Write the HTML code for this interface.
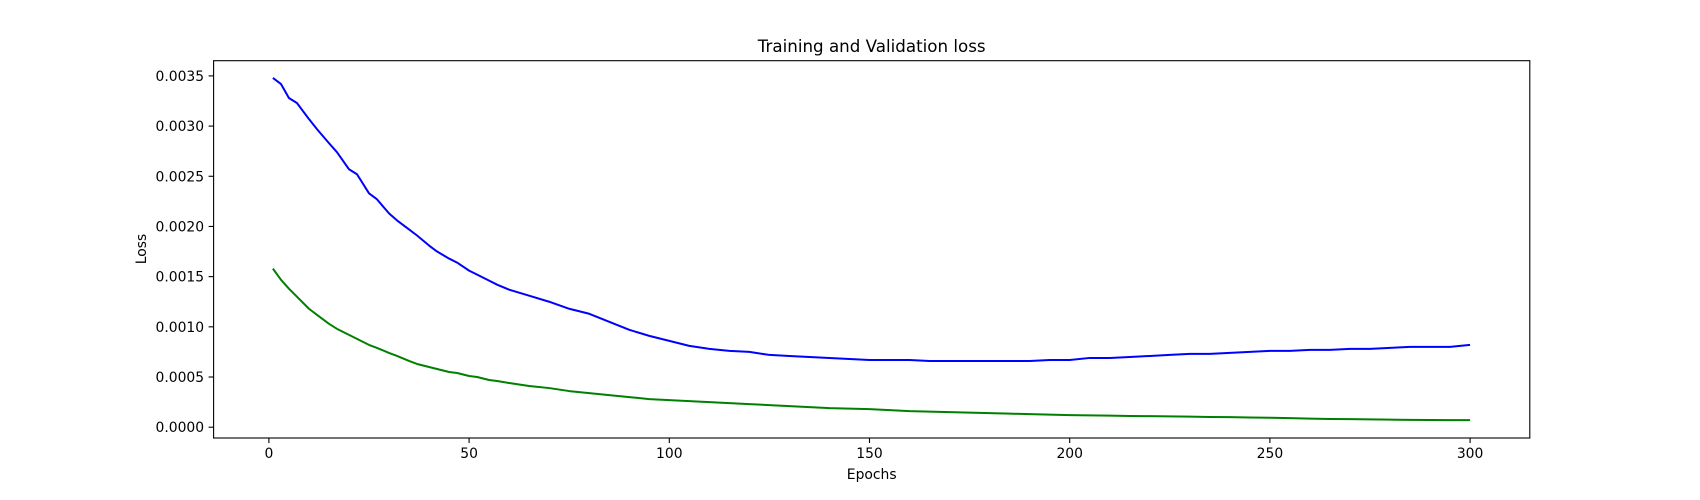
<!DOCTYPE html>
<html><head><meta charset="utf-8"><style>
body{margin:0;background:#fff;}
svg{display:block;font-family:"DejaVu Sans","Liberation Sans",sans-serif;}
</style></head><body>
<svg id="c" width="1700" height="500"></svg>
<script>
const epochs=[1,3,5,7,10,12,15,17,20,22,25,27,30,32,35,37,40,42,45,47,50,52,55,57,60,65,70,75,80,85,90,95,100,105,110,115,120,125,130,135,140,145,150,155,160,165,170,175,180,185,190,195,200,205,210,215,220,225,230,235,240,245,250,255,260,265,270,275,280,285,290,295,300];
const trainLoss=[0.00158,0.00147,0.00138,0.00130,0.00118,0.00112,0.00103,0.00098,0.00092,0.00088,0.00082,0.00079,0.00074,0.00071,0.00066,0.00063,0.00060,0.00058,0.00055,0.00054,0.00051,0.00050,0.00047,0.00046,0.00044,0.00041,0.00039,0.00036,0.00034,0.00032,0.00030,0.00028,0.00027,0.00026,0.00025,0.00024,0.00023,0.00022,0.00021,0.00020,0.00019,0.000185,0.00018,0.00017,0.00016,0.000155,0.00015,0.000145,0.00014,0.000135,0.00013,0.000125,0.00012,0.000118,0.000115,0.000112,0.00011,0.000108,0.000105,0.000102,0.0001,0.000097,0.000094,0.00009,0.000085,0.000082,0.00008,0.000078,0.000075,0.000073,0.000072,0.00007,0.00007];
const valLoss=[0.00348,0.00342,0.00328,0.00323,0.00307,0.00297,0.00283,0.00274,0.00257,0.00252,0.00233,0.00227,0.00213,0.00206,0.00197,0.00191,0.00181,0.00175,0.00168,0.00164,0.00156,0.00152,0.00146,0.00142,0.00137,0.00131,0.00125,0.00118,0.00113,0.00105,0.00097,0.00091,0.00086,0.00081,0.00078,0.00076,0.00075,0.00072,0.00071,0.00070,0.00069,0.00068,0.00067,0.00067,0.00067,0.00066,0.00066,0.00066,0.00066,0.00066,0.00066,0.00067,0.00067,0.00069,0.00069,0.00070,0.00071,0.00072,0.00073,0.00073,0.00074,0.00075,0.00076,0.00076,0.00077,0.00077,0.00078,0.00078,0.00079,0.00080,0.00080,0.00080,0.00082];
const xTicks=[0,50,100,150,200,250,300];
const yTicks=[0,0.0005,0.001,0.0015,0.002,0.0025,0.003,0.0035];
const yTickLabels=["0.0000","0.0005","0.0010","0.0015","0.0020","0.0025","0.0030","0.0035"];
const NS="http://www.w3.org/2000/svg";
const svg=document.getElementById('c');
const L=213.6,R=1529.8,T=60.7,B=438;
const xs=v=>268.9+v*(1470.1-268.9)/300;
const ys=v=>427.2-v*((427.2-75.9)/0.0035);
function el(t,a,p){const e=document.createElementNS(NS,t);for(const k in a)e.setAttribute(k,a[k]);(p||svg).appendChild(e);return e;}
function line(data,color,name){
  const d=epochs.map((e,i)=>(i?'L':'M')+xs(e).toFixed(2)+','+ys(data[i]).toFixed(2)).join('');
  const p=el('path',{d:d,fill:'none',stroke:color,'stroke-width':2,'stroke-linejoin':'round'});
  
  
}
line(valLoss,'#0000ff','validation-loss-line');
line(trainLoss,'#008000','training-loss-line');
const frame=el('rect',{x:L,y:T,width:R-L,height:B-T,fill:'none',stroke:'#000','stroke-width':1.1});


xTicks.forEach(v=>{
  const x=xs(v);
  el('line',{x1:x,x2:x,y1:B,y2:B+5,stroke:'#000','stroke-width':1.1});
  const t=el('text',{x:x,y:B+20,'text-anchor':'middle','font-size':13.9});
  t.textContent=v;
  
  
});
yTicks.forEach((v,i)=>{
  const y=ys(v);
  el('line',{x1:L-5,x2:L,y1:y,y2:y,stroke:'#000','stroke-width':1.1});
  const t=el('text',{x:L-9.5,y:y+5,'text-anchor':'end','font-size':13.9});
  t.textContent=yTickLabels[i];
  
  
});
const title=el('text',{x:871.7,y:52,'text-anchor':'middle','font-size':16.7});
title.textContent='Training and Validation loss';


const xl=el('text',{x:871.7,y:479,'text-anchor':'middle','font-size':13.9});
xl.textContent='Epochs';


const yl=el('text',{x:0,y:0,'text-anchor':'middle','font-size':13.9,transform:'translate(146,249) rotate(-90)'});
yl.textContent='Loss';


</script>
</body></html>
